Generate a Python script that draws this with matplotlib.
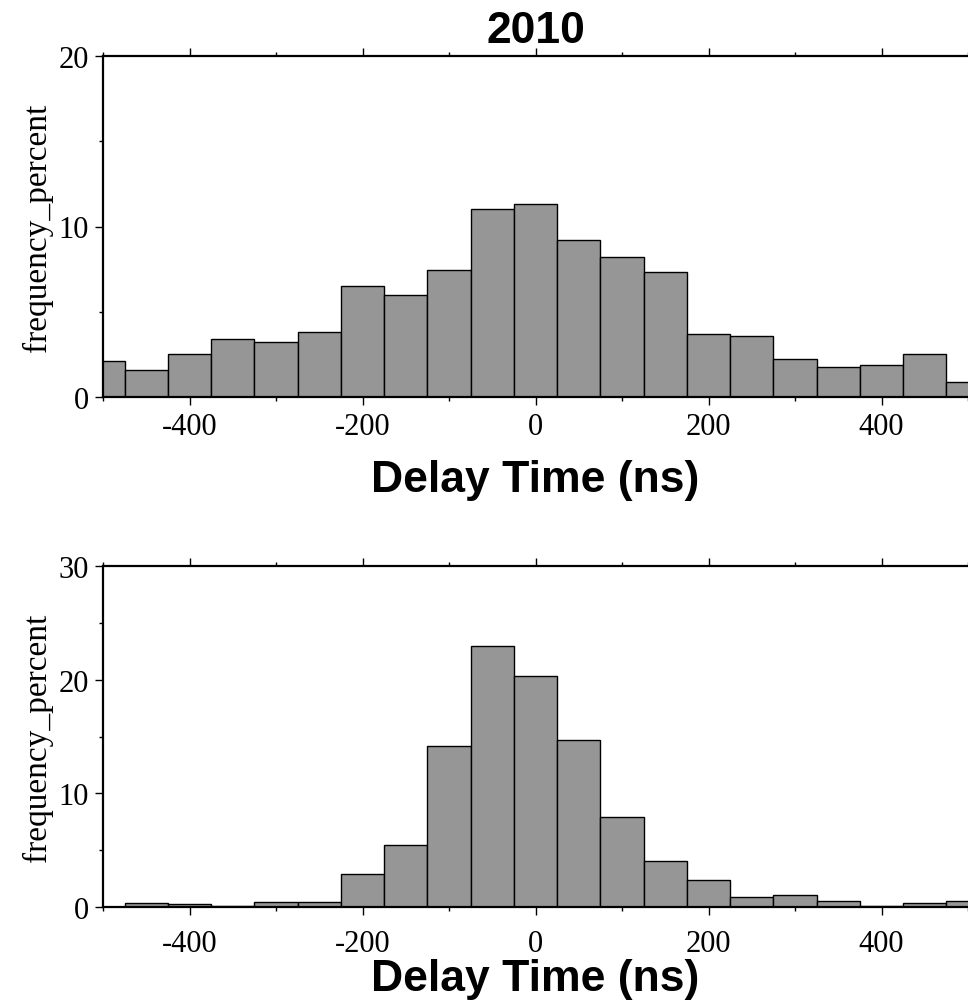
import numpy as np
import matplotlib
matplotlib.use("Agg")
import matplotlib.pyplot as plt
from matplotlib.ticker import MultipleLocator

# bin centres (ns) and frequencies (%)
centres = [-500, -450, -400, -350, -300, -250, -200, -150, -100, -50, 0,
           50, 100, 150, 200, 250, 300, 350, 400, 450, 500]
freq_top = [2.1, 1.6, 2.5, 3.4, 3.25, 3.8, 6.5, 6.0, 7.45, 11.0, 11.3,
            9.2, 8.2, 7.35, 3.7, 3.55, 2.2, 1.75, 1.9, 2.5, 0.9]
freq_bottom = [0.0, 0.35, 0.3, 0.1, 0.45, 0.45, 2.9, 5.45, 14.15, 23.0, 20.3,
               14.7, 7.95, 4.05, 2.35, 0.85, 1.05, 0.55, 0.1, 0.35, 0.5]
bin_width = 50

serif = "Liberation Serif"
sans = "Liberation Sans"

fig = plt.figure(figsize=(9.68, 10.03), dpi=100)
ax1 = fig.add_axes([103/968, 1 - 398/1003, 1 - 103/968, 341/1003])
ax2 = fig.add_axes([103/968, 1 - 908/1003, 1 - 103/968, 341/1003])

# (axes, values, y max, tick pad, xlabel pad)
panels = [(ax1, freq_top, 20, 5, 13), (ax2, freq_bottom, 30, 10, 0)]

for ax, freq, ymax, tpad, lpad in panels:
    ax.bar(centres, freq, width=bin_width, color="#969696",
           edgecolor="black", linewidth=1.0, zorder=2)
    ax.set_xlim(-500, 500)
    ax.set_ylim(0, ymax)
    ax.xaxis.set_major_locator(MultipleLocator(200))
    ax.xaxis.set_minor_locator(MultipleLocator(100))
    ax.yaxis.set_major_locator(MultipleLocator(10))
    ax.yaxis.set_minor_locator(MultipleLocator(5))
    ax.spines["right"].set_visible(False)
    for s in ["left", "top", "bottom"]:
        ax.spines[s].set_linewidth(1.6)
        ax.spines[s].set_zorder(3)
    ax.tick_params(which="both", direction="out", top=True, right=False,
                   width=1.0)
    ax.tick_params(which="major", length=6)
    ax.tick_params(which="minor", length=3)
    ax.tick_params(axis="x", which="major", labelsize=22, pad=tpad)
    ax.tick_params(axis="y", which="major", labelsize=22, pad=4)
    ax.set_xticks([-400, -200, 0, 200, 400])
    ax.set_xticklabels(["-400", "-200", "0", "200", "400"], family=serif)
    for lab in ax.get_yticklabels():
        lab.set_family(serif)
    ax.set_ylabel("frequency_percent", family=serif, fontsize=24, labelpad=4)
    ax.set_xlabel("Delay Time (ns)", family=sans, fontsize=32,
                  fontweight="bold", labelpad=lpad)

ax1.set_title("2010", family=sans, fontsize=32, fontweight="bold", pad=10)

fig.savefig("out.png", dpi=100)
